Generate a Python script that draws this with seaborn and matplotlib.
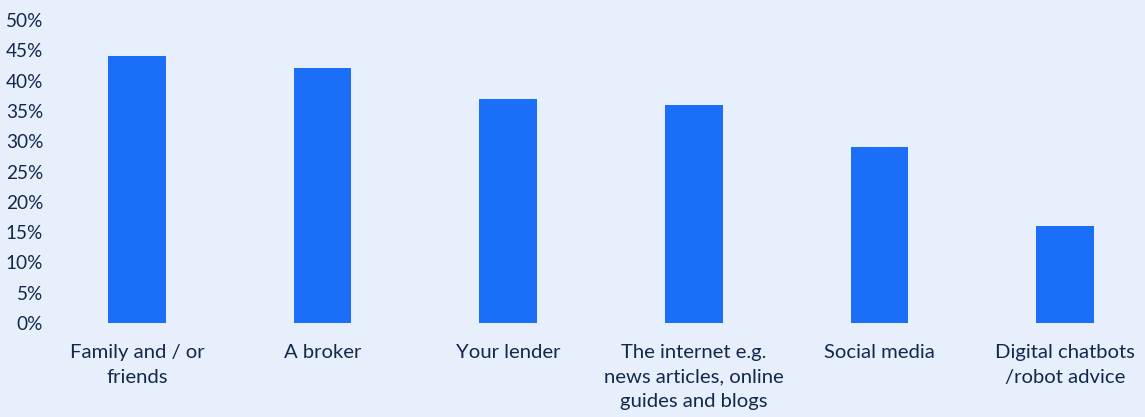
import matplotlib
matplotlib.use("Agg")
import matplotlib.pyplot as plt
import seaborn as sns
import pandas as pd

categories = ["Family and / or\nfriends", "A broker", "Your lender",
              "The internet e.g.\nnews articles, online\nguides and blogs",
              "Social media", "Digital chatbots\n/robot advice"]
values = [44, 42, 37, 36, 29, 16]
yticks = [0, 5, 10, 15, 20, 25, 30, 35, 40, 45, 50]
ytick_labels = [f"{v}%" for v in yticks]

BG = "#E8EFFC"
BAR = "#1A6EF8"
TXT = "#13294B"

sns.set_theme(style="white")
plt.rcParams['font.family'] = ['Lato', 'DejaVu Sans']

fig = plt.figure(figsize=(11.45, 4.17), dpi=100, facecolor=BG)
ax = fig.add_axes([50/1145, 0.2254, 1090/1145, 0.7266])
ax.set_facecolor(BG)

df = pd.DataFrame({"cat": categories, "val": values})
sns.barplot(data=df, x="cat", y="val", color=BAR, saturation=1, width=0.31,
            linewidth=0, edgecolor=BAR, ax=ax)

ax.set_xlim(-0.469, 5.404)
ax.set_ylim(0, 50)
ax.set_yticks(yticks)
ax.set_yticklabels(ytick_labels)
ax.set_xlabel("")
ax.set_ylabel("")
for s in ax.spines.values():
    s.set_visible(False)
ax.tick_params(axis="y", length=0, pad=5, labelsize=13.7, labelcolor=TXT)
ax.tick_params(axis="x", length=0, pad=15, labelsize=14.6, labelcolor=TXT)
for lbl in ax.get_xticklabels():
    lbl.set_linespacing(1.55)
    lbl.set_ha("center")

fig.savefig("out.png", dpi=100, facecolor=BG)
